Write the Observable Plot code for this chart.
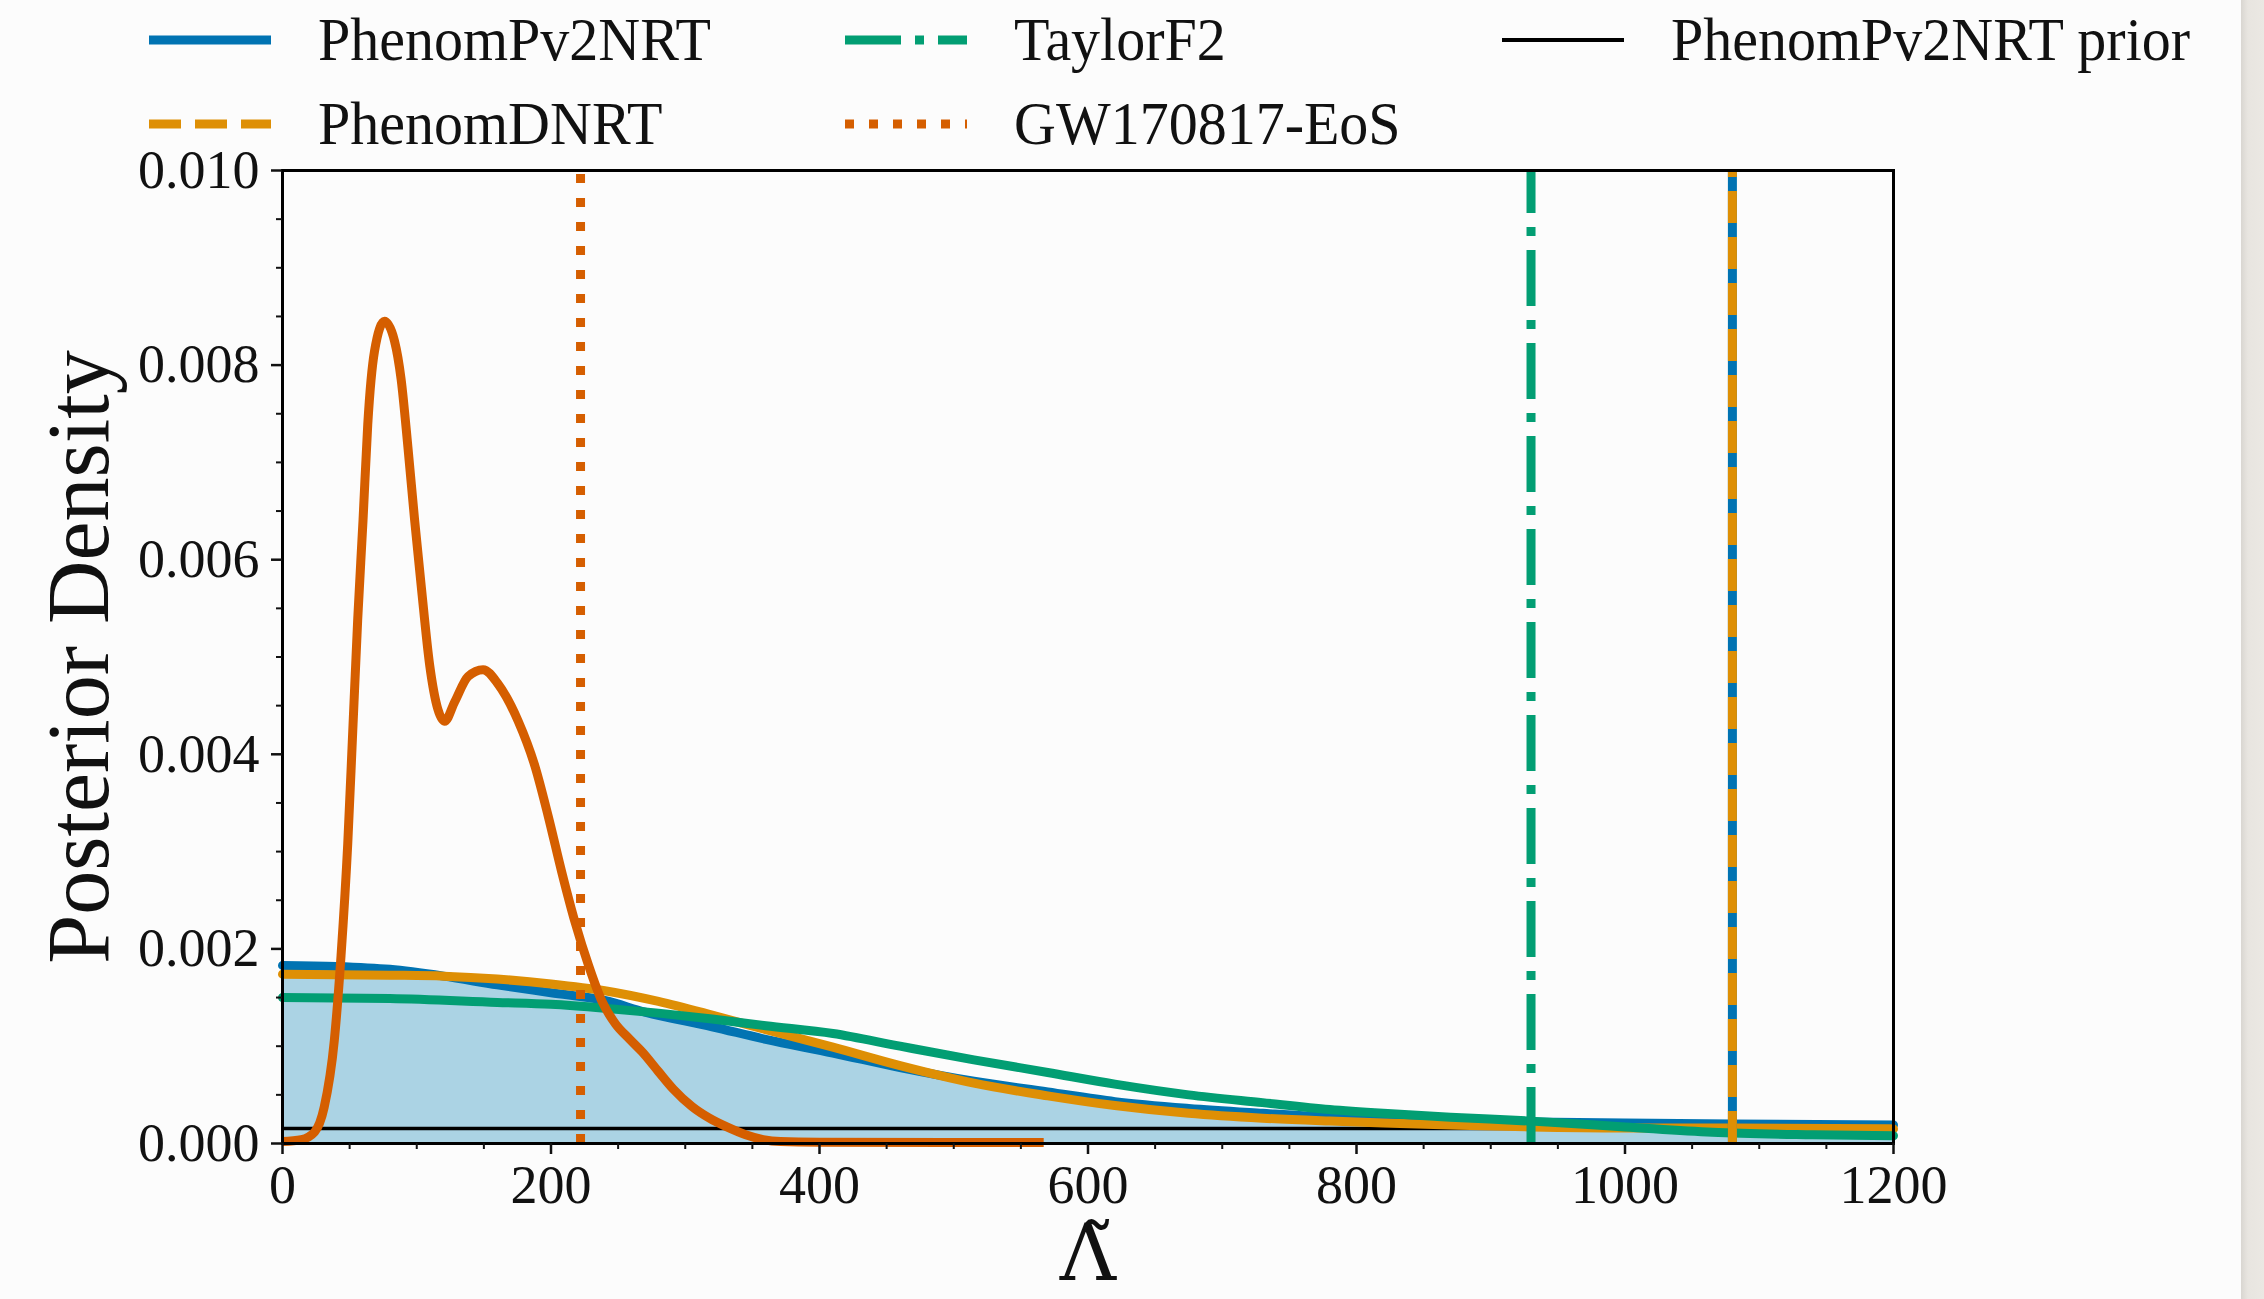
<!DOCTYPE html>
<html>
<head>
<meta charset="utf-8">
<script src="https://cdn.jsdelivr.net/npm/d3@7"></script>
<script src="https://cdn.jsdelivr.net/npm/@observablehq/plot@0.6"></script>
<style>
  html, body { margin: 0; padding: 0; background: #fcfcfc; width: 2264px; height: 1299px; overflow: hidden; }
  #legend { position: relative; height: 150px; width: 2264px; font-family: "Liberation Serif", serif; color: #111; }
  .item { position: absolute; display: flex; align-items: center; transform: translateY(-50%); }
  .item span { font-size: 58px; line-height: 1; margin-left: 47px; white-space: nowrap; display: inline-block; transform: scaleY(1.06); }
  #plot svg { display: block; overflow: visible; }
  #strip { position: absolute; left: 2241px; top: 0; width: 23px; height: 1299px;
           background: linear-gradient(to right, #d9d6d1, #e8e5e0 30%, #ebe8e3); }
</style>
</head>
<body>
<div id="legend"></div>
<div id="plot"></div>
<div id="strip"></div>
<script>
// ---- data ----
const seriesNames = ["PhenomPv2NRT", "PhenomDNRT", "TaylorF2", "GW170817-EoS", "PhenomPv2NRT prior"];
const seriesColors = ["#0173b2", "#de8f05", "#029e73", "#d55e00", "#000000"];

const lambdaPv2 = [0, 40, 80, 120, 160, 200, 240, 270, 320, 360, 410, 460, 515, 570, 620, 675, 730, 780, 820, 870, 930, 1000, 1080, 1200];
const densityPv2 = [0.00183, 0.00182, 0.00179, 0.00172, 0.00163, 0.00155, 0.00147, 0.00135, 0.00120, 0.00107, 0.00093, 0.00078, 0.00064, 0.00053, 0.00043, 0.00036, 0.00031, 0.00027, 0.00025, 0.00023, 0.00022, 0.00021, 0.00020, 0.00019];

const lambdaDNRT = [0, 80, 120, 160, 200, 240, 280, 320, 360, 410, 460, 515, 570, 620, 675, 730, 780, 820, 870, 930, 1000, 1080, 1200];
const densityDNRT = [0.00174, 0.00173, 0.00172, 0.00169, 0.00164, 0.00157, 0.00146, 0.00132, 0.00117, 0.00099, 0.00080, 0.00062, 0.00049, 0.00039, 0.00031, 0.00026, 0.00023, 0.00021, 0.00019, 0.00017, 0.00016, 0.00016, 0.00015];

const lambdaTF2 = [0, 80, 160, 200, 240, 280, 320, 360, 410, 460, 515, 570, 620, 675, 730, 780, 820, 870, 930, 1000, 1065, 1140, 1200];
const densityTF2 = [0.00150, 0.00149, 0.00145, 0.00143, 0.00139, 0.00134, 0.00128, 0.00121, 0.00113, 0.00100, 0.00086, 0.00073, 0.00061, 0.00050, 0.00042, 0.00035, 0.00031, 0.00027, 0.00023, 0.00017, 0.000115, 0.00009, 0.00008];

const lambdaEoS = [0, 14, 24, 31, 38.6, 43.6, 48.6, 52.3, 56, 60, 63.5, 68.5, 76, 83.4, 88.4, 93.4, 98.4, 103.4, 109.6, 115.8, 120.8, 128.3, 138.2, 149.4, 160.7, 175.6, 188, 198, 208, 218, 228, 238, 248, 258, 268, 280, 291, 305, 318, 331, 345, 358, 371, 400, 567];
const densityEoS = [0.00002, 0.00004, 0.00012, 0.00037, 0.00106, 0.00193, 0.00308, 0.00423, 0.00538, 0.00641, 0.00739, 0.00814, 0.00845, 0.00825, 0.00785, 0.00716, 0.00641, 0.00572, 0.00492, 0.00446, 0.00434, 0.00454, 0.00480, 0.00487, 0.00472, 0.00434, 0.00388, 0.00336, 0.00279, 0.00227, 0.00183, 0.00146, 0.00123, 0.00108, 0.00094, 0.00074, 0.00056, 0.00038, 0.00026, 0.00017, 0.00009, 0.00004, 0.00002, 0.000014, 0.00001];

const priorDensity = [0.000155];

const boundNames = ["PhenomPv2NRT", "PhenomDNRT", "TaylorF2", "GW170817-EoS"];
const boundValues = [1080, 1080, 930, 222];

const xTicks = [0, 200, 400, 600, 800, 1000, 1200];
const xMinorTicks = [50, 100, 150, 250, 300, 350, 450, 500, 550, 650, 700, 750, 850, 900, 950, 1050, 1100, 1150];
const yTicks = [0, 0.002, 0.004, 0.006, 0.008, 0.010];
const yMinorTicks = [0.0005, 0.001, 0.0015, 0.0025, 0.003, 0.0035, 0.0045, 0.005, 0.0055, 0.0065, 0.007, 0.0075, 0.0085, 0.009, 0.0095];

const xLabel = "Λ\u0303";
const yLabel = "Posterior Density";

// ---- styles ----
const LW = 9;
const dashes = {
  "PhenomPv2NRT": null,
  "PhenomDNRT": "32,14",
  "TaylorF2": "56,14,9,14",
  "GW170817-EoS": "9,15",
  "PhenomPv2NRT prior": null
};

// ---- legend (HTML above the plot) ----
const legendLayout = [
  {name: "PhenomPv2NRT", left: 149, top: 40},
  {name: "TaylorF2", left: 845, top: 40},
  {name: "PhenomPv2NRT prior", left: 1502, top: 40},
  {name: "PhenomDNRT", left: 149, top: 124},
  {name: "GW170817-EoS", left: 845, top: 124}
];
const legend = document.getElementById("legend");
for (const it of legendLayout) {
  const i = seriesNames.indexOf(it.name);
  const w = it.name === "PhenomPv2NRT prior" ? 4 : LW;
  const div = document.createElement("div");
  div.className = "item";
  div.style.left = it.left + "px";
  div.style.top = it.top + "px";
  const dash = dashes[it.name];
  div.innerHTML = `<svg width="122" height="20"><line x1="0" x2="122" y1="10" y2="10" stroke="${seriesColors[i]}" stroke-width="${w}" ${dash ? `stroke-dasharray="${dash}"` : ""}/></svg><span>${it.name}</span>`;
  legend.appendChild(div);
}

// ---- tables built from the arrays ----
const toRows = (xs, ys) => xs.map((x, k) => ({x, y: ys[k]}));
const pv2 = toRows(lambdaPv2, densityPv2);
const dnrt = toRows(lambdaDNRT, densityDNRT);
const tf2 = toRows(lambdaTF2, densityTF2);
const eos = toRows(lambdaEoS, densityEoS);
const bounds = boundNames.map((n, k) => ({name: n, x: boundValues[k], y1: 0, y2: 0.010}));
const colorOf = n => seriesColors[seriesNames.indexOf(n)];

const rule = (name) => Plot.ruleX(bounds.filter(d => d.name === name), {
  x: "x", y1: "y1", y2: "y2", stroke: colorOf(name), strokeWidth: LW,
  strokeDasharray: dashes[name] || undefined, strokeLinecap: "butt"
});

const chart = Plot.plot({
  width: 2264,
  height: 1149,
  marginLeft: 282,
  marginRight: 371,
  marginTop: 20,
  marginBottom: 156,
  style: {fontFamily: "Liberation Serif, serif", fontSize: "54px", background: "transparent", color: "#111", overflow: "visible"},
  x: {domain: [0, 1200]},
  y: {domain: [0, 0.010]},
  marks: [
    Plot.areaY(pv2, {x: "x", y: "y", fill: "#abd3e4", curve: "monotone-x"}),
    Plot.ruleY(priorDensity, {stroke: "#000", strokeWidth: 3.5}),
    Plot.lineY(pv2, {x: "x", y: "y", stroke: colorOf("PhenomPv2NRT"), strokeWidth: LW, curve: "monotone-x"}),
    Plot.lineY(dnrt, {x: "x", y: "y", stroke: colorOf("PhenomDNRT"), strokeWidth: LW, curve: "monotone-x"}),
    Plot.lineY(tf2, {x: "x", y: "y", stroke: colorOf("TaylorF2"), strokeWidth: LW, curve: "monotone-x"}),
    Plot.lineY(eos, {x: "x", y: "y", stroke: colorOf("GW170817-EoS"), strokeWidth: LW, curve: "monotone-x", strokeLinecap: "butt"}),
    rule("PhenomPv2NRT"),
    rule("PhenomDNRT"),
    rule("TaylorF2"),
    rule("GW170817-EoS"),
    Plot.frame({stroke: "#000", strokeWidth: 3}),
    Plot.axisY({ticks: yTicks, tickFormat: d => d.toFixed(3), tickSize: 11, tickPadding: 12, strokeWidth: 2.5, label: null, fontSize: 54}),
    Plot.axisY({ticks: yMinorTicks, tickFormat: () => "", tickSize: 6, strokeWidth: 2, label: null}),
    Plot.axisX({ticks: xTicks, tickFormat: d => String(d), tickSize: 11, tickPadding: 10, strokeWidth: 2.5, label: null, fontSize: 54}),
    Plot.axisX({ticks: xMinorTicks, tickFormat: () => "", tickSize: 6, strokeWidth: 2, label: null}),
    Plot.text([xLabel], {frameAnchor: "bottom", textAnchor: "middle", dy: 112, fontSize: 78, fontFamily: "DejaVu Serif", lineAnchor: "middle", fill: "#111"}),
    Plot.text([yLabel], {frameAnchor: "left", textAnchor: "middle", rotate: -90, dx: -203, fontSize: 88, lineAnchor: "middle", fill: "#111"})
  ]
});
document.getElementById("plot").appendChild(chart);
</script>
</body>
</html>
